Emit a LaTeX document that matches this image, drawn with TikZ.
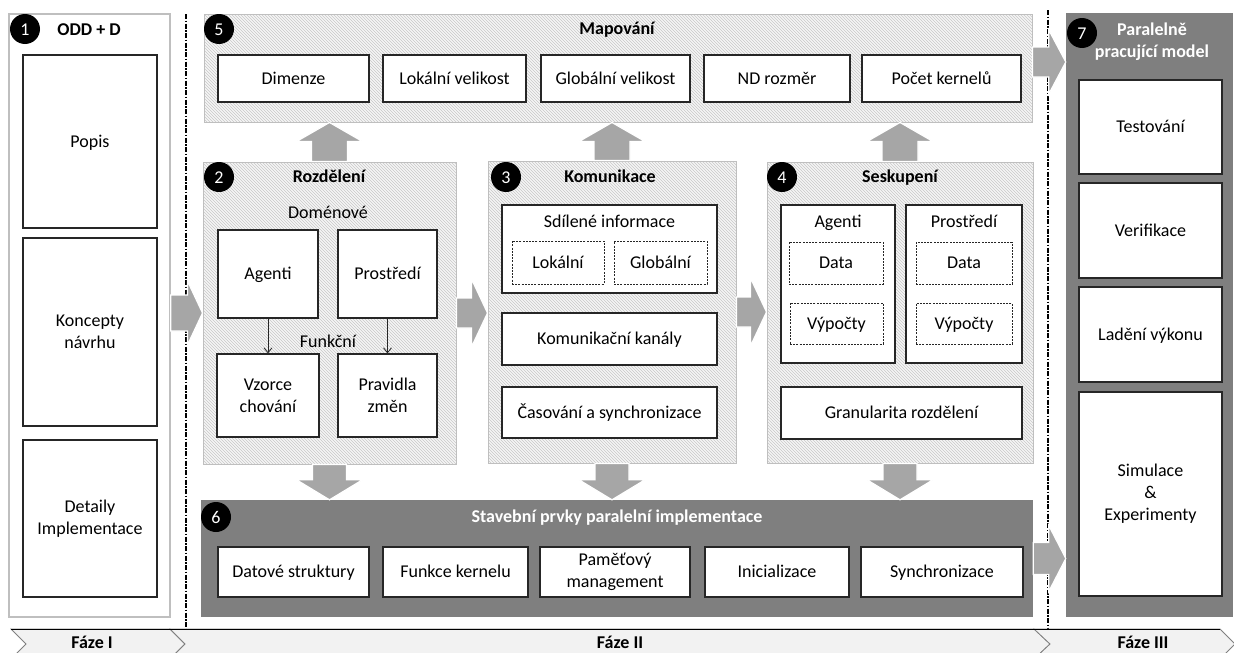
\documentclass[tikz,border=0pt]{standalone}
\usepackage{fontspec}
\setmainfont{Carlito}
\usetikzlibrary{patterns,calc,arrows.meta}

\definecolor{boxline}{HTML}{262626}
\definecolor{panelline}{HTML}{BFBFBF}
\definecolor{hatchbg}{HTML}{F5F5F5}
\definecolor{hatchline}{HTML}{C8C8C8}
\definecolor{darkpanel}{HTML}{7F7F7F}
\definecolor{arrowgray}{HTML}{A6A6A6}
\definecolor{phasefill}{HTML}{F2F2F2}
\definecolor{phaseedge}{HTML}{808080}

\newcommand\txt{\fontsize{18}{22}\selectfont}

% box from corner (#3,#4) to corner (#5,#6), named #2, text #7
\newcommand\mkbox[7][]{%
  \node[#1, minimum width={(#5-#3)*1pt}, minimum height={(#6-#4)*1pt}]
    (#2) at ({(#3+#5)/2},{(#4+#6)/2}) {#7};}

% block arrows: #1 start, #2 tip, #3 shaft half width, #4 head half width, #5 head length
\newcommand\blkright[5]{%
  \path[blockarrow] let \p1=(#1), \p2=(#2) in
    (\x1,{\y1+#3pt}) -- ({\x2-#5pt},{\y1+#3pt}) -- ({\x2-#5pt},{\y1+#4pt})
    -- (\x2,\y1) -- ({\x2-#5pt},{\y1-#4pt}) -- ({\x2-#5pt},{\y1-#3pt})
    -- (\x1,{\y1-#3pt}) -- cycle;}
\newcommand\blkup[5]{%
  \path[blockarrow] let \p1=(#1), \p2=(#2) in
    ({\x1-#3pt},\y1) -- ({\x1-#3pt},{\y2-#5pt}) -- ({\x1-#4pt},{\y2-#5pt})
    -- (\x1,\y2) -- ({\x1+#4pt},{\y2-#5pt}) -- ({\x1+#3pt},{\y2-#5pt})
    -- ({\x1+#3pt},\y1) -- cycle;}
\newcommand\blkdown[5]{%
  \path[blockarrow] let \p1=(#1), \p2=(#2) in
    ({\x1-#3pt},\y1) -- ({\x1-#3pt},{\y2+#5pt}) -- ({\x1-#4pt},{\y2+#5pt})
    -- (\x1,\y2) -- ({\x1+#4pt},{\y2+#5pt}) -- ({\x1+#3pt},{\y2+#5pt})
    -- ({\x1+#3pt},\y1) -- cycle;}

\tikzset{
  panel/.style={preaction={fill=hatchbg}, pattern=north west lines,
    pattern color=hatchline, draw=panelline, line width=1pt, inner sep=0pt},
  darkbox/.style={fill=darkpanel, draw=none, inner sep=0pt},
  wpanel/.style={fill=white, draw=panelline, line width=1.5pt, inner sep=0pt},
  ibox/.style={draw=boxline, line width=1.2pt, fill=white, inner sep=1pt,
    align=center, font=\txt, text=black},
  oneline/.style={text height=13.5pt, text depth=2pt},
  iboxs/.style={ibox, oneline},
  dbox/.style={iboxs, dash pattern=on 2pt off 1.2pt, line width=0.9pt},
  num/.style={circle, fill=black, text=white, minimum size=30pt, inner sep=0pt,
    font=\txt, text height=12pt, text depth=0pt},
  ttl/.style={font=\txt\bfseries, inner sep=0pt, oneline},
  wttl/.style={font=\txt\bfseries, inner sep=0pt, text=white, align=center},
  lbl/.style={font=\txt, inner sep=0pt, oneline},
  sepline/.style={line width=1.3pt, dash pattern=on 5pt off 1.5pt on 1.5pt off 1.5pt},
  phase/.style={fill=phasefill, draw=phaseedge, line width=0.8pt},
  blockarrow/.style={fill=arrowgray, draw=white, line width=1.2pt},
  thinarrow/.style={-{Straight Barb[length=5pt,width=8pt]}, line width=0.8pt, draw=boxline}
}

\begin{document}
\begin{tikzpicture}[x=1pt, y=-1pt]
\useasboundingbox (0,0) rectangle (1234,653);

% ---------- panels ----------
\mkbox[wpanel]{p1}{9}{14}{170}{617}{}
\mkbox[panel]{p5}{204}{14}{1032}{122}{}
\mkbox[panel]{p2}{203}{162}{456}{464}{}
\mkbox[panel]{p3}{488}{161}{736}{463}{}
\mkbox[panel]{p4}{767}{162}{1033}{463}{}
\mkbox[darkbox]{p6}{201}{500}{1033}{617}{}
\mkbox[darkbox]{p7}{1066}{13}{1233}{617}{}

% ---------- phase separators ----------
\coordinate (s1top) at (186,14);
\coordinate (s1bot) at (186,629);
\coordinate (s2top) at (1048,10);
\coordinate (s2bot) at (1048,629);
\draw[sepline] (s1top) -- (s1bot);
\draw[sepline] (s2top) -- (s2bot);

% ---------- phase bar ----------
\begin{scope}
\clip (0,0) rectangle (1234,653);
\path[phase] (11,629) -- (170,629) -- (185,644) -- (170,659) -- (11,659) -- (26,644) -- cycle;
\path[phase] (170,629) -- (1034,629) -- (1050,644) -- (1034,659) -- (170,659) -- (185,644) -- cycle;
\path[phase] (1034,629) -- (1220,629) -- (1235,644) -- (1220,659) -- (1034,659) -- (1050,644) -- cycle;
\draw[line width=1pt, black] (11,629) -- (1220,629);
\end{scope}
\node[ttl] (f1) at (92,643) {Fáze I};
\node[ttl] (f2) at (620,643) {Fáze II};
\node[ttl] (f3) at (1143,643) {Fáze III};

% ---------- block arrows between panels ----------
\blkright{p1.east |- p2.west}{p2.west}{18}{32}{15}
\blkright{p2.east}{p3.west}{15}{34}{16}
\blkright{p3.east}{p4.west}{15}{34}{16}
\coordinate (a57) at ($(p5.east)+(0,-6)$);
\blkright{a57}{a57 -| p7.west}{15}{32}{17}
\blkright{p6.east}{p6.east -| p7.west}{16}{33}{17}
\blkup{p2.north}{p2.north |- p5.south}{18}{33}{19}
\blkup{p3.north}{p3.north |- p5.south}{18}{33}{19}
\blkup{p4.north}{p4.north |- p5.south}{18}{33}{19}
\blkdown{p2.south}{p2.south |- p6.north}{17}{33}{20}
\blkdown{p3.south}{p3.south |- p6.north}{17}{33}{20}
\blkdown{p4.south}{p4.south |- p6.north}{17}{33}{20}

% ---------- 1: ODD + D ----------
\node[num] (n1) at (25,29) {1};
\node[ttl] (t1) at (89,30) {ODD + D};
\mkbox[iboxs]{popis}{23}{55}{157}{228}{Popis}
\mkbox[ibox]{koncepty}{23}{238}{157}{426}{Koncepty\\návrhu}
\mkbox[ibox]{detaily}{23}{440}{157}{597}{Detaily\\Implementace}

% ---------- 5: Mapování ----------
\node[num] (n5) at (219,29) {5};
\node[ttl] (t5) at (617,29) {Mapování};
\mkbox[iboxs]{dimenze}{218}{55}{369}{102}{Dimenze}
\mkbox[iboxs]{lokvel}{383}{55}{526}{102}{Lokální velikost}
\mkbox[iboxs]{globvel}{541}{55}{690}{102}{Globální velikost}
\mkbox[iboxs]{ndroz}{704}{55}{850}{102}{ND rozměr}
\mkbox[iboxs]{pocet}{862}{55}{1021}{102}{Počet kernelů}

% ---------- 2: Rozdělení ----------
\node[num] (n2) at (219,177) {2};
\node[ttl] (t2) at (329,177) {Rozdělení};
\node[lbl] (domen) at (328,213) {Doménové};
\mkbox[iboxs]{agenti}{218}{230}{318}{318}{Agenti}
\mkbox[iboxs]{prostr}{338}{230}{437}{318}{Prostředí}
\node[lbl] (funkc) at (328,342) {Funkční};
\mkbox[ibox]{vzorce}{217}{354}{319}{437}{Vzorce\\chování}
\mkbox[ibox]{pravidla}{338}{354}{437}{437}{Pravidla\\změn}
\draw[thinarrow] (agenti) -- (vzorce);
\draw[thinarrow] (prostr) -- (pravidla);

% ---------- 3: Komunikace ----------
\node[num] (n3) at (506,177) {3};
\node[ttl] (t3) at (610,177) {Komunikace};
\mkbox[ibox]{sdil}{502}{205}{717}{293}{}
\node[lbl] (sdilt) at (609.5,222) {Sdílené informace};
\mkbox[dbox]{lokalni}{512}{241}{604}{284}{Lokální}
\mkbox[dbox]{globalni}{614}{241}{707}{284}{Globální}
\mkbox[iboxs]{kanaly}{502}{313}{717}{365}{Komunikační kanály}
\mkbox[iboxs]{casovani}{502}{387}{717}{438}{Časování a synchronizace}

% ---------- 4: Seskupení ----------
\node[num] (n4) at (782,177) {4};
\node[ttl] (t4) at (900,177) {Seskupení};
\mkbox[ibox]{agbox}{781}{205}{895}{363}{}
\node[lbl] (agt) at (838,222) {Agenti};
\mkbox[dbox]{data1}{789}{242}{883}{284}{Data}
\mkbox[dbox]{vyp1}{790}{303}{883}{344}{Výpočty}
\mkbox[ibox]{prbox}{906}{205}{1022}{363}{}
\node[lbl] (prt) at (964,222) {Prostředí};
\mkbox[dbox]{data2}{916}{242}{1012}{284}{Data}
\mkbox[dbox]{vyp2}{916}{303}{1012}{344}{Výpočty}
\mkbox[iboxs]{granul}{781}{387}{1022}{439}{Granularita rozdělení}

% ---------- 6: Stavební prvky ----------
\node[num] (n6) at (216,517) {6};
\node[wttl, oneline] (t6) at (617,517) {Stavební prvky paralelní implementace};
\mkbox[iboxs]{datstr}{218}{547}{369}{597}{Datové struktury}
\mkbox[iboxs]{funker}{383}{547}{528}{597}{Funkce kernelu}
\mkbox[ibox]{pamet}{540}{547}{690}{597}{Paměťový\\management}
\mkbox[iboxs]{inic}{705}{547}{849}{597}{Inicializace}
\mkbox[iboxs]{synch}{861}{547}{1023}{597}{Synchronizace}

% ---------- 7: Paralelně pracující model ----------
\node[num] (n7) at (1082,33) {7};
\node[wttl] (t7) at (1152,42) {Paralelně\\pracující model};
\mkbox[iboxs]{testov}{1079}{80}{1222}{174}{Testování}
\mkbox[iboxs]{verif}{1079}{183}{1222}{278}{Verifikace}
\mkbox[iboxs]{ladeni}{1079}{287}{1222}{382}{Ladění výkonu}
\mkbox[ibox]{simul}{1079}{392}{1222}{596}{Simulace\\\&\\Experimenty}
\end{tikzpicture}
\end{document}
